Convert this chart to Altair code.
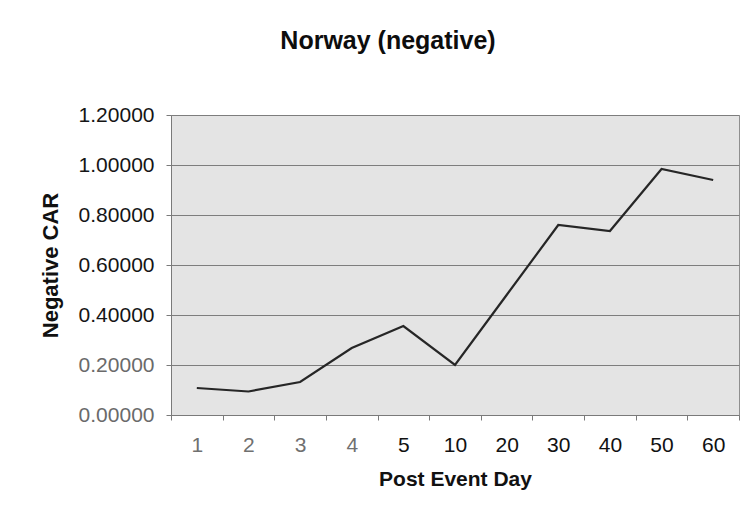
import altair as alt
import pandas as pd

# Post event days (ordinal categories) and the cumulative abnormal return
days = ["1", "2", "3", "4", "5", "10", "20", "30", "40", "50", "60"]
car = [0.108, 0.094, 0.132, 0.268, 0.356, 0.200, 0.480, 0.760, 0.736, 0.984, 0.940]
y_ticks = [0, 0.2, 0.4, 0.6, 0.8, 1.0, 1.2]

df = pd.DataFrame({"day": days, "car": car})

font = "Liberation Sans"

line = (
    alt.Chart(df)
    .mark_line(color="#262626", strokeWidth=2.2)
    .encode(
        x=alt.X(
            "day:N",
            sort=days,
            scale=alt.Scale(paddingInner=0, paddingOuter=0),
            axis=alt.Axis(
                title="Post Event Day",
                labelAngle=0,
                labelFontSize=21,
                labelColor=alt.ExprRef(
                    "indexof(['1','2','3','4'], datum.value) >= 0 ? '#707070' : '#111111'"
                ),
                labelPadding=14,
                titleFontSize=21,
                titleFontWeight="bold",
                titleColor="#111111",
                titlePadding=13,
                tickBand="extent",
                tickSize=5,
                tickColor="#7a7a7a",
                domainColor="#7a7a7a",
                grid=False,
            ),
        ),
        y=alt.Y(
            "car:Q",
            scale=alt.Scale(domain=[0, 1.2]),
            axis=alt.Axis(
                title="Negative CAR",
                values=y_ticks,
                format=".5f",
                labelFontSize=21,
                labelColor=alt.ExprRef("datum.value < 0.3 ? '#6a6a6a' : '#151515'"),
                labelPadding=12,
                titleFontSize=22,
                titleFontWeight="bold",
                titleColor="#111111",
                titlePadding=16,
                tickSize=5,
                tickColor="#7a7a7a",
                domainColor="#7a7a7a",
                gridColor="#7d7d7d",
                gridWidth=1,
            ),
        ),
    )
)

chart = (
    line.properties(
        width=568,
        height=300,
        title=alt.TitleParams(
            "Norway (negative)",
            fontSize=25,
            fontWeight="bold",
            font=font,
            color="#0d0d0d",
            anchor="middle",
            dx=-67,
            offset=50,
        ),
        autosize=alt.AutoSizeParams(type="none"),
        padding={"left": 171, "top": 115, "right": 12, "bottom": 116},
    )
    .configure(font=font, background="white")
    .configure_view(fill="#e4e4e4", stroke="#8f8f8f", strokeWidth=1)
    .configure_axis(labelFont=font, titleFont=font)
)

chart.save("out.html", embed_options={"renderer": "svg", "actions": False})
